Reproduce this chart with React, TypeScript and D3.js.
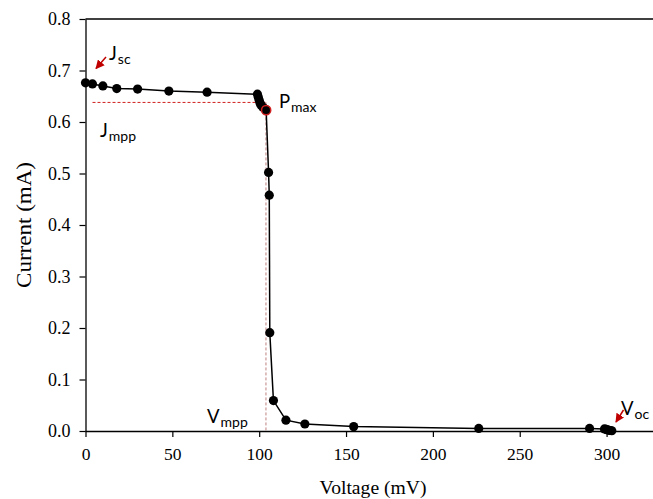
import React, { useRef, useEffect } from 'react';
import * as d3 from 'd3';

// J-V curve
const voltage = [0, 4, 10, 18, 30, 48, 70, 99, 99.5, 100, 100.5, 101, 102, 103, 104, 105.4, 105.8, 106.1, 108.2, 115.4, 126.3, 154.4, 226.4, 290.2, 298.8, 299.8, 300.6, 301.4, 302.2, 303];
const current = [0.676, 0.674, 0.670, 0.665, 0.664, 0.660, 0.658, 0.654, 0.648, 0.642, 0.637, 0.633, 0.629, 0.626, 0.623, 0.502, 0.458, 0.191, 0.059, 0.021, 0.0136, 0.0085, 0.005, 0.005, 0.004, 0.003, 0.002, 0.0015, 0.001, 0.0005];
const xTicks = [0, 50, 100, 150, 200, 250, 300];
const yTicks = [0, 0.1, 0.2, 0.3, 0.4, 0.5, 0.6, 0.7, 0.8];
const vmpp = 103.9;
const jmpp = 0.638;
const pmax = { v: 104, i: 0.623 };

const W = 653;
const H = 499;
const LEFT = 85.5;
const RIGHT = 650;
const TOP = 19;
const BOTTOM = 431;
const SERIF = 'Liberation Serif, Times New Roman, serif';
const SANS = 'Lato, Open Sans, sans-serif';

function JVChart() {
  const ref = useRef<SVGSVGElement>(null);

  useEffect(() => {
    const svg = d3.select(ref.current);
    svg.selectAll('*').remove();

    const x = d3.scaleLinear().domain([0, 325]).range([LEFT, RIGHT]);
    const y = d3.scaleLinear().domain([0, 0.8]).range([BOTTOM, TOP]);
    const data = voltage.map((v, k) => ({ v, i: current[k] }));

    // frame top line
    svg.append('line')
      .attr('x1', LEFT).attr('x2', W).attr('y1', TOP).attr('y2', TOP)
      .attr('stroke', '#000').attr('stroke-width', 1.3);

    const yAxis = svg.append('g').attr('transform', `translate(${LEFT},0)`)
      .call(d3.axisLeft(y).tickValues(yTicks).tickFormat(d3.format('.1f')).tickSize(6).tickSizeOuter(0));
    yAxis.attr('font-family', SERIF).attr('font-size', 18);
    yAxis.select('.domain').attr('stroke-width', 1.3);
    yAxis.selectAll('.tick line').attr('stroke-width', 1.2);
    yAxis.selectAll('text').attr('fill', '#000').attr('x', -15);

    const xAxis = svg.append('g').attr('transform', `translate(0,${BOTTOM})`)
      .call(d3.axisBottom(x).tickValues(xTicks).tickFormat(d3.format('d')).tickSize(6).tickSizeOuter(0));
    xAxis.attr('font-family', SERIF).attr('font-size', 17.5);
    xAxis.select('.domain').attr('d', `M${LEFT},0.5H${W}`).attr('stroke-width', 1.3);
    xAxis.selectAll('.tick line').attr('stroke-width', 1.2);
    xAxis.selectAll('text').attr('fill', '#000').attr('y', 17);

    svg.append('text')
      .attr('x', 373).attr('y', 494).attr('text-anchor', 'middle')
      .attr('font-family', SERIF).attr('font-size', 19.5)
      .attr('textLength', 107).attr('lengthAdjust', 'spacingAndGlyphs')
      .text('Voltage (mV)');
    svg.append('text')
      .attr('transform', `translate(31,225) rotate(-90)`)
      .attr('text-anchor', 'middle')
      .attr('font-family', SERIF).attr('font-size', 21)
      .attr('textLength', 126).attr('lengthAdjust', 'spacingAndGlyphs')
      .text('Current (mA)');

    // dashed mpp guides
    svg.append('line')
      .attr('x1', LEFT + 7).attr('x2', x(vmpp)).attr('y1', y(jmpp)).attr('y2', y(jmpp))
      .attr('stroke', '#d02020').attr('stroke-width', 1).attr('stroke-dasharray', '3,2');
    svg.append('line')
      .attr('x1', x(vmpp)).attr('x2', x(vmpp)).attr('y1', y(jmpp)).attr('y2', BOTTOM)
      .attr('stroke', '#c08080').attr('stroke-width', 1).attr('stroke-dasharray', '3,2');

    const line = d3.line<{ v: number; i: number }>().x(d => x(d.v)).y(d => y(d.i));
    svg.append('path').datum(data).attr('d', line)
      .attr('fill', 'none').attr('stroke', '#000').attr('stroke-width', 1.5);

    svg.append('g').selectAll('circle').data(data).join('circle')
      .attr('cx', d => x(d.v)).attr('cy', d => y(d.i)).attr('r', 4.6).attr('fill', '#000');

    svg.append('circle').attr('cx', x(pmax.v)).attr('cy', y(pmax.i)).attr('r', 4.6)
      .attr('fill', '#000').attr('stroke', '#d02020').attr('stroke-width', 1.5);

    // annotations
    const defs = svg.append('defs');
    defs.append('marker').attr('id', 'ah').attr('viewBox', '0 0 10 10')
      .attr('refX', 9).attr('refY', 5).attr('markerUnits', 'userSpaceOnUse')
      .attr('markerWidth', 9).attr('markerHeight', 9).attr('orient', 'auto')
      .append('path').attr('d', 'M0,0L10,5L0,10z').attr('fill', '#c00000');

    const arrow = (x1: number, y1: number, x2: number, y2: number) =>
      svg.append('line').attr('x1', x1).attr('y1', y1).attr('x2', x2).attr('y2', y2)
        .attr('stroke', '#c00000').attr('stroke-width', 1.5).attr('marker-end', 'url(#ah)');
    arrow(106, 57, 96, 68.5);
    arrow(623.5, 410, 616, 422);

    const label = (tx: number, ty: number, main: string, sub: string) => {
      const t = svg.append('text').attr('x', tx).attr('y', ty)
        .attr('font-family', SANS).attr('font-size', 18.5).attr('fill', '#000');
      t.append('tspan').text(main);
      t.append('tspan').attr('font-size', 14).attr('dx', 1).attr('dy', 4).text(sub);
    };
    label(109, 60, 'J', 'sc');
    label(279, 108, 'P', 'max');
    label(100, 137, 'J', 'mpp');
    label(207, 423, 'V', 'mpp');
    label(621, 415, 'V', 'oc');
  }, []);

  return <svg ref={ref} width={W} height={H} style={{ display: 'block' }} />;
}

export default function App() {
  return (
    <div style={{ position: 'fixed', left: 0, top: 0, background: '#fff' }}>
      <JVChart />
    </div>
  );
}
